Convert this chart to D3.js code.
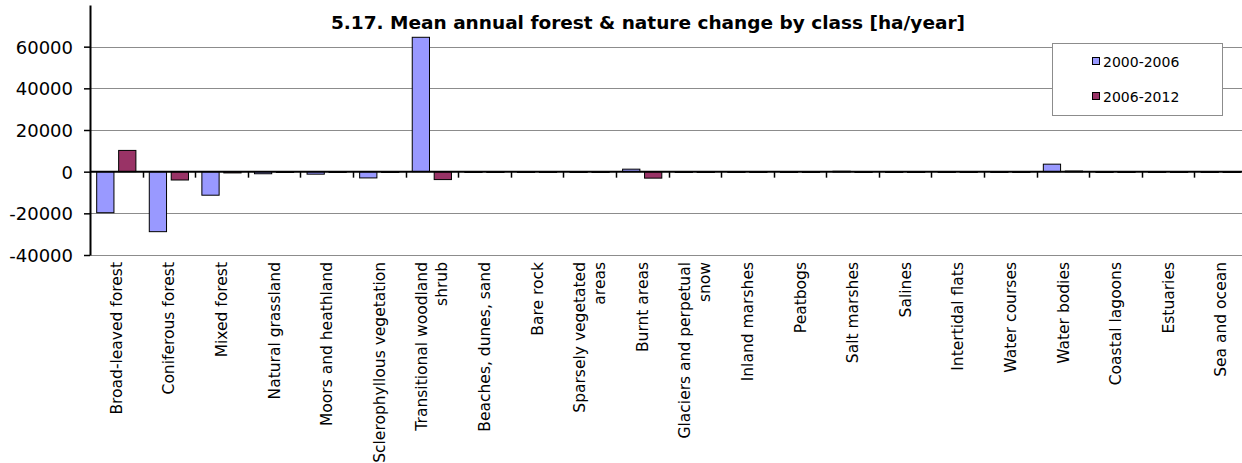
<!DOCTYPE html>
<html><head><meta charset="utf-8">
<script src="https://cdn.jsdelivr.net/npm/d3@7"></script>
<style>
html,body{margin:0;padding:0;background:#fff;overflow:hidden}
svg{display:block}
text{font-family:"DejaVu Sans",sans-serif;fill:#000}
</style></head>
<body>
<svg id="chart" width="1242" height="463"></svg>
<script>
const categories = ["Broad-leaved forest","Coniferous forest","Mixed forest","Natural grassland","Moors and heathland","Sclerophyllous vegetation","Transitional woodland shrub","Beaches, dunes,  sand","Bare rock","Sparsely vegetated areas","Burnt areas","Glaciers and perpetual snow","Inland marshes","Peatbogs","Salt marshes","Salines","Intertidal flats","Water courses","Water bodies","Coastal lagoons","Estuaries","Sea and ocean"];
const labelLines = [["Broad-leaved forest"],["Coniferous forest"],["Mixed forest"],["Natural grassland"],["Moors and heathland"],["Sclerophyllous vegetation"],["Transitional woodland","shrub"],["Beaches, dunes,  sand"],["Bare rock"],["Sparsely vegetated","areas"],["Burnt areas"],["Glaciers and perpetual","snow"],["Inland marshes"],["Peatbogs"],["Salt marshes"],["Salines"],["Intertidal flats"],["Water courses"],["Water bodies"],["Coastal lagoons"],["Estuaries"],["Sea and ocean"]];
const seriesNames = ["2000-2006","2006-2012"];
const values2000_2006 = [-19700,-28800,-11300,-1000,-1200,-3000,64500,-300,-200,-200,1200,-200,-100,-100,200,-200,-300,-100,3600,-100,-300,-200];
const values2006_2012 = [10200,-4000,-600,-300,-200,-100,-3800,-100,-100,-300,-3100,-100,-100,-100,-400,-100,-100,-300,300,-100,-200,-300];
const yTicks = [-40000,-20000,0,20000,40000,60000];
const colors = ["#9999FF","#993366"];
const titleText = "5.17. Mean annual forest & nature change by class [ha/year]";

const svg = d3.select("#chart");
const pLeft = 90, pRight = 1247, pTop = 5, pBottom = 255;
const x = d3.scaleBand().domain(categories).range([pLeft, pRight]).padding(0);
const xs = d3.scaleBand().domain(seriesNames).range([0, x.bandwidth()]).paddingInner(0.214).paddingOuter(0.305);
const y = d3.scaleLinear().domain([-40000, 80000]).range([pBottom, pTop]);

// gridlines
svg.append("g").selectAll("line").data(yTicks.filter(d=>d!==0)).join("line")
  .attr("x1", pLeft).attr("x2", 1242).attr("y1", d=>Math.round(y(d))+0.5).attr("y2", d=>Math.round(y(d))+0.5)
  .attr("stroke", "#8c8c8c").attr("stroke-width", 1);

// title
svg.append("text").attr("x", 648).attr("y", 29).attr("text-anchor","middle")
  .attr("font-weight","bold").attr("font-size",18.5).text(titleText);

// legend
const lg = svg.append("g");
lg.append("rect").attr("x",1052.5).attr("y",43.5).attr("width",170).attr("height",72)
  .attr("fill","#fff").attr("stroke","#8c8c8c").attr("stroke-width",1);
seriesNames.forEach((s,i)=>{
  const cy = 62 + i*35;
  lg.append("rect").attr("x",1092.5).attr("y",cy-4.5).attr("width",7).attr("height",7)
    .attr("fill",colors[i]).attr("stroke","#000").attr("stroke-width",1);
  lg.append("text").attr("x",1103).attr("y",cy+5).attr("font-size",14).text(s);
});

// bars
const data = categories.map((c,i)=>({c, v:[values2000_2006[i], values2006_2012[i]]}));
const g = svg.append("g");
data.forEach(d=>{
  d.v.forEach((v,j)=>{
    const y0 = y(0), y1 = y(v);
    g.append("rect")
      .attr("x", x(d.c) + xs(seriesNames[j]))
      .attr("y", Math.min(y0,y1))
      .attr("width", xs.bandwidth())
      .attr("height", Math.max(Math.abs(y1-y0), 0.8))
      .attr("fill", colors[j]).attr("stroke","#000").attr("stroke-width",1);
  });
});

// zero axis
svg.append("line").attr("x1",pLeft).attr("x2",1242).attr("y1",y(0)).attr("y2",y(0))
  .attr("stroke","#000").attr("stroke-width",2);
svg.append("g").selectAll("line").data(categories).join("line")
  .attr("x1", (d,i)=>Math.round(pLeft + (i+1)*x.step())+0.5)
  .attr("x2", (d,i)=>Math.round(pLeft + (i+1)*x.step())+0.5)
  .attr("y1", y(0)).attr("y2", y(0)+6)
  .attr("stroke","#000").attr("stroke-width",1.5);

// y axis
const ya = svg.append("g").attr("transform",`translate(${pLeft},0)`)
  .call(d3.axisLeft(y).tickValues(yTicks).tickSize(6).tickPadding(11).tickSizeOuter(0).tickFormat(d=>String(d)));
ya.attr("font-size", 18).attr("font-family", "DejaVu Sans");
ya.select(".domain").attr("stroke","#000").attr("stroke-width",2);
ya.selectAll(".tick line").attr("stroke","#000").attr("stroke-width",1.5);
ya.selectAll(".tick text").attr("font-size", 18).attr("dy","0.36em");

// category labels
const lab = svg.append("g");
labelLines.forEach((lines,i)=>{
  const cx = x(categories[i]) + x.bandwidth()/2;
  const n = lines.length;
  const t = lab.append("text")
    .attr("transform",`translate(${cx},262) rotate(-90)`)
    .attr("text-anchor","end").attr("font-size",15.5);
  lines.forEach((ln,k)=>{
    const off = (k - (n-1)/2) * 20;
    t.append("tspan").attr("x",0).attr("y", off).attr("dy","0.36em").text(ln);
  });
});
</script>
</body></html>
